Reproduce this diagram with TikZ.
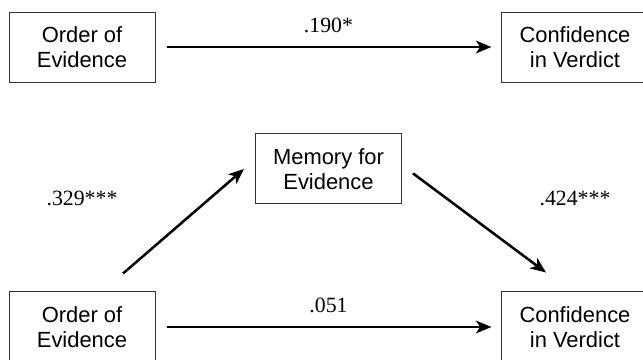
\documentclass[tikz,border=0pt]{standalone}
\usepackage{fontspec}
\setmainfont{Liberation Serif}
\setsansfont{Liberation Sans}
\usetikzlibrary{calc,arrows.meta}
\definecolor{sgrey}{HTML}{333333}

\begin{document}
\begin{tikzpicture}[VAR/.style={draw=sgrey,line width=0.7pt,rectangle,minimum width=3.65cm,minimum height=1.75cm,align=center,font=\sffamily\fontsize{15.6}{17.5}\selectfont},AR/.style={-{Stealth[length=11pt,width=9pt,inset=3pt]},line width=2.1pt},DAR/.style={AR,line width=1.8pt},CO/.style={font=\fontsize{15.5}{18}\selectfont,inner sep=0pt}]
        \useasboundingbox (0,0) rectangle (16.075,-8.975);
        % Total effect (upper panel)
        \node[VAR] (order) at (2.05,-1.175) {Order of\\Evidence};
        \node[VAR,anchor=west] (conf) at ($(order.east)+(8.65,0)$) {Confidence\\in Verdict};
        \draw[AR,shorten <=0.3cm,shorten >=0.25cm] (order) -- node[CO,yshift=0.55cm]{.190*} (conf);
        % Mediator
        \node[VAR,anchor=north] (mem) at ($(order.south east)!0.5!(conf.south west)+(0,-1.275)$) {Memory for\\Evidence};
        % Lower panel, same two boxes again
        \node[VAR,anchor=north] (order2) at ($(order.south)+(0,-5.225)$) {Order of\\Evidence};
        \node[VAR,anchor=north] (conf2) at ($(conf.south)+(0,-5.225)$) {Confidence\\in Verdict};
        % ARROWS via the mediator
        \coordinate (tailA) at ($(order2.north)+(1.025,0.45)$);
        \coordinate (tipA) at ($(mem.west)+(-0.275,0)$);
        \coordinate (tailB) at ($(mem.east)+(0.275,-0.11)$);
        \coordinate (tipB) at ($(conf2.north)+(-0.725,0.475)$);
        \draw[DAR] (tailA) -- (tipA);
        \draw[DAR] (tailB) -- (tipB);
        \node[CO] (pathA) at ($(order2.north)+(0,2.325)$) {.329***};
        \node[CO] (pathB) at ($(conf2.north)+(0,2.325)$) {.424***};
        % Direct effect
        \draw[AR,shorten <=0.3cm,shorten >=0.25cm] (order2) -- node[CO,yshift=0.55cm]{.051} (conf2);
    \end{tikzpicture}
\end{document}
